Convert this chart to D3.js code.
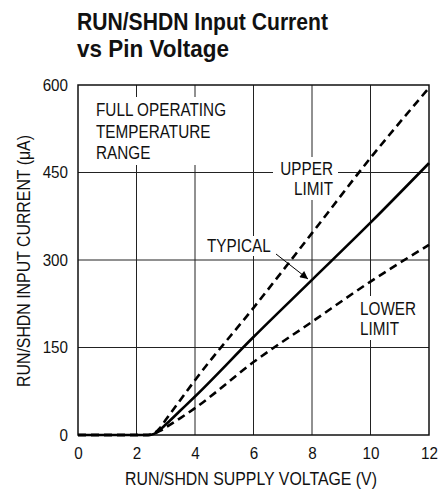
<!DOCTYPE html>
<html>
<head>
<meta charset="utf-8">
<script src="https://cdn.jsdelivr.net/npm/d3@7"></script>
<style>
  body { margin: 0; background: #fff; }
  text { font-family: "Liberation Sans", Arial, sans-serif; fill: #111; }
</style>
</head>
<body>
<script>
// data
var voltage = [0, 2.4, 2.6, 2.8, 3, 3.5, 4, 6, 8, 10, 12];
var typical = [0, 0, 2, 9, 18, 42, 66, 168, 266, 364, 466];
var upper   = [0, 0, 3, 12, 26, 60, 94, 218, 346, 475, 595];
var lower   = [0, 0, 2, 7, 13, 29, 46, 125, 194, 263, 326];
var xTicks = [0, 2, 4, 6, 8, 10, 12];
var yTicks = [0, 150, 300, 450, 600];

var width = 441,
	height = 498;

var svg = d3.select("body").append("svg")
	.attr("width", width)
	.attr("height", height);

var x = d3.scaleLinear().domain([0, 12]).range([78, 429]);
var y = d3.scaleLinear().domain([0, 600]).range([435, 85]);

// squeeze a text to look like a narrow face
function narrow(sel, k){
	sel.each(function(){
		var w = this.getComputedTextLength();
		d3.select(this).attr("textLength", w * k).attr("lengthAdjust", "spacingAndGlyphs");
	});
	return sel;
}

// title
svg.append("text").attr("x", 77).attr("y", 30)
	.style("font-weight", "bold").style("font-size", "24px")
	.attr("textLength", 251).attr("lengthAdjust", "spacingAndGlyphs")
	.text("RUN/SHDN Input Current");
svg.append("text").attr("x", 77).attr("y", 57)
	.style("font-weight", "bold").style("font-size", "24px")
	.attr("textLength", 152).attr("lengthAdjust", "spacingAndGlyphs")
	.text("vs Pin Voltage");

// grid
svg.append("g").selectAll("line").data(xTicks.slice(1, -1)).enter().append("line")
	.attr("x1", d => x(d)).attr("x2", d => x(d))
	.attr("y1", y(600)).attr("y2", y(0))
	.attr("stroke", "#222").attr("stroke-width", 1);
svg.append("g").selectAll("line").data(yTicks.slice(1, -1)).enter().append("line")
	.attr("y1", d => y(d)).attr("y2", d => y(d))
	.attr("x1", x(0)).attr("x2", x(12))
	.attr("stroke", "#222").attr("stroke-width", 1);

// white boxes behind annotations (they break the grid)
var boxes = [[90, 97, 144, 68], [273, 157, 65, 43], [355, 296, 66, 44], [203, 236, 72, 20]];
svg.append("g").selectAll("rect").data(boxes).enter().append("rect")
	.attr("x", d => d[0]).attr("y", d => d[1])
	.attr("width", d => d[2]).attr("height", d => d[3])
	.attr("fill", "#fff");

// frame
svg.append("rect").attr("x", x(0)).attr("y", y(600))
	.attr("width", x(12) - x(0)).attr("height", y(0) - y(600))
	.attr("fill", "none").attr("stroke", "#111").attr("stroke-width", 1.5);

// axes labels
var xAxis = d3.axisBottom(x).tickValues(xTicks).tickSize(0).tickPadding(13);
var gx = svg.append("g").attr("transform", "translate(0," + y(0) + ")").call(xAxis);
var yAxis = d3.axisLeft(y).tickValues(yTicks).tickSize(0).tickPadding(10);
var gy = svg.append("g").attr("transform", "translate(" + x(0) + ",0)").call(yAxis);
[gx, gy].forEach(function(g){
	g.select(".domain").remove();
	g.selectAll("text").style("font-size", "16px").attr("fill", "#111")
		.style("font-family", "'Liberation Sans', Arial, sans-serif");
	narrow(g.selectAll("text"), 0.95);
});

svg.append("text").attr("x", 251).attr("y", 485)
	.attr("text-anchor", "middle").style("font-size", "18px")
	.attr("textLength", 252).attr("lengthAdjust", "spacingAndGlyphs")
	.text("RUN/SHDN SUPPLY VOLTAGE (V)");
svg.append("text").attr("transform", "translate(30,261) rotate(-90)")
	.attr("text-anchor", "middle").style("font-size", "18px")
	.attr("textLength", 252).attr("lengthAdjust", "spacingAndGlyphs")
	.text("RUN/SHDN INPUT CURRENT (\u03bcA)");

// curves
var line = d3.line()
	.x(d => x(d[0])).y(d => y(d[1]))
	.curve(d3.curveMonotoneX);

var series = [
	{vals: upper, dash: "8,5"},
	{vals: lower, dash: "8,5"},
	{vals: typical, dash: null}
];
svg.append("g").selectAll("path").data(series).enter().append("path")
	.attr("d", d => line(voltage.map((v, i) => [v, d.vals[i]])))
	.attr("fill", "none").attr("stroke", "#000").attr("stroke-width", 2.6)
	.attr("stroke-dasharray", d => d.dash);

// annotations
function label(lines, px, py, anchor, gap){
	lines.forEach(function(s, i){
		var t = svg.append("text").attr("text-anchor", anchor).style("font-size", "18px")
			.attr("x", px).attr("y", py + i * gap).text(s);
		narrow(t, 0.85);
	});
}
label(["FULL OPERATING", "TEMPERATURE", "RANGE"], 96, 116, "start", 21.7);
label(["UPPER", "LIMIT"], 333, 175, "end", 20);
label(["LOWER", "LIMIT"], 360, 315, "start", 20);
label(["TYPICAL"], 207, 252, "start", 0);

// arrow to typical line
svg.append("defs").append("marker").attr("id", "ah")
	.attr("viewBox", "0 0 10 10").attr("refX", 10).attr("refY", 5)
	.attr("markerWidth", 10).attr("markerHeight", 8).attr("markerUnits", "userSpaceOnUse")
	.attr("orient", "auto")
	.append("path").attr("d", "M0,0L10,5L0,10z").attr("fill", "#000");
svg.append("line").attr("x1", 276).attr("y1", 254)
	.attr("x2", 308).attr("y2", 279)
	.attr("stroke", "#000").attr("stroke-width", 1)
	.attr("marker-end", "url(#ah)");
</script>
</body>
</html>
